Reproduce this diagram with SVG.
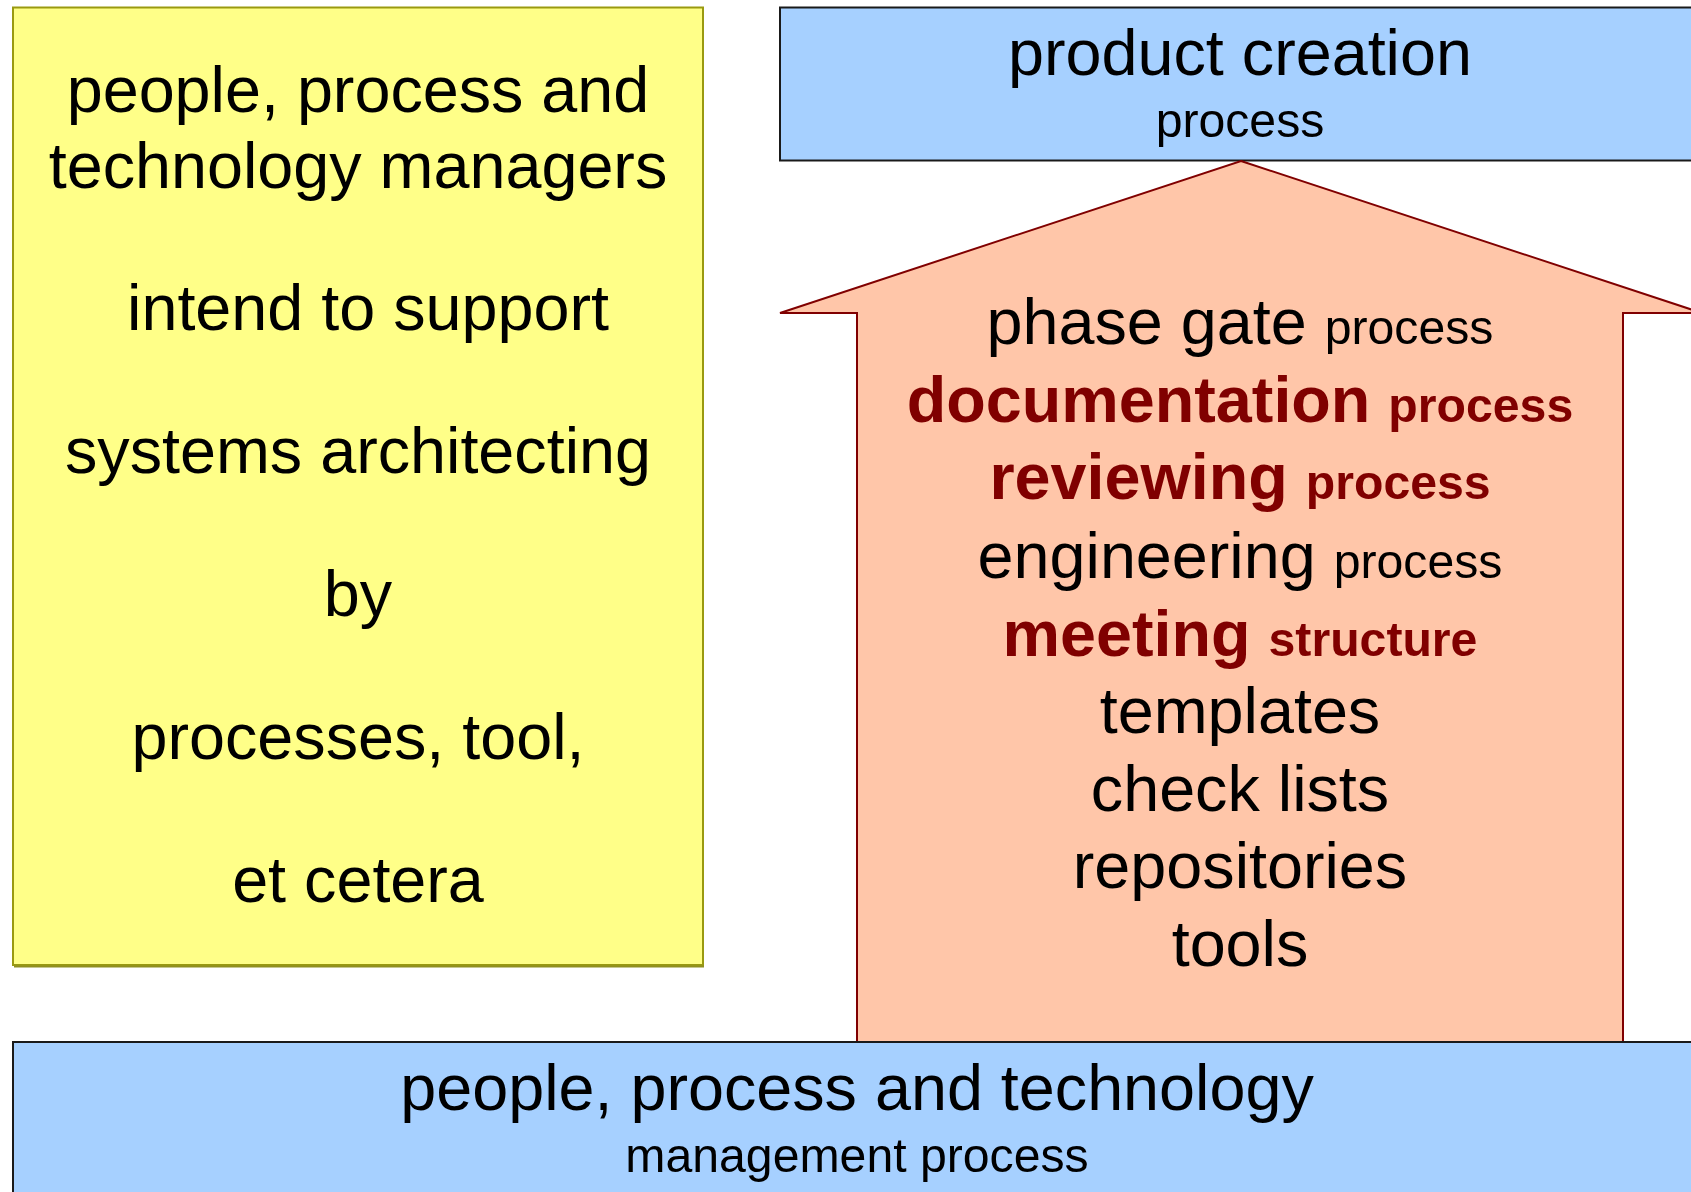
<svg xmlns="http://www.w3.org/2000/svg" width="1691" height="1192" viewBox="0 0 1691 1192">
<style>
text{font-family:"Liberation Sans",Arial,sans-serif;text-anchor:middle;fill:#000}
.big{font-size:64.7px}
.small{font-size:48.2px}
.red{fill:#800000;font-weight:bold}
.blue{fill:#a6d0ff;stroke:#1a1a1a;stroke-width:2}
.yellow{fill:#ffff88;stroke:#9a9a10;stroke-width:2}
.arrow{fill:#ffc6a9;stroke:#800000;stroke-width:2;stroke-linejoin:miter}
</style>
<rect width="1691" height="1192" fill="#fff"/>
<g id="managers">
<rect class="yellow" x="13" y="7.5" width="690" height="957.5"/>
<line x1="14" y1="966.5" x2="704" y2="966.5" stroke="#8f8f20" stroke-width="2"/>
<text class="big" x="358" y="112">people, process and</text>
<text class="big" x="358" y="188">technology managers</text>
<text class="big" x="368" y="330">intend to support</text>
<text class="big" x="358" y="473">systems architecting</text>
<text class="big" x="358" y="616">by</text>
<text class="big" x="358" y="759">processes, tool,</text>
<text class="big" x="358" y="902">et cetera</text>
</g>
<g id="product-creation">
<rect class="blue" x="780" y="7.5" width="930" height="153"/>
<text x="1240" y="75"><tspan class="big">product creation</tspan></text>
<text x="1240" y="137"><tspan class="small">process</tspan></text>
</g>
<g id="connectors">
<polygon class="arrow" points="1241,161 1702,313 1623,313 1623,1042 857,1042 857,313 780,313"/>
</g>
<g id="support-means">
<text x="1240" y="344"><tspan class="big">phase gate </tspan><tspan class="small">process</tspan></text>
<text x="1240" y="422" class="red"><tspan class="big">documentation </tspan><tspan class="small">process</tspan></text>
<text x="1240" y="499" class="red"><tspan class="big">reviewing </tspan><tspan class="small">process</tspan></text>
<text x="1240" y="578"><tspan class="big">engineering </tspan><tspan class="small">process</tspan></text>
<text x="1240" y="656" class="red"><tspan class="big">meeting </tspan><tspan class="small">structure</tspan></text>
<text class="big" x="1240" y="733">templates</text>
<text class="big" x="1240" y="811">check lists</text>
<text class="big" x="1240" y="888">repositories</text>
<text class="big" x="1240" y="966">tools</text>
</g>
<g id="ppt-management">
<rect class="blue" x="13" y="1042" width="1700" height="170"/>
<text class="big" x="857" y="1110">people, process and technology</text>
<text class="small" x="857" y="1172">management process</text>
</g>
</svg>
